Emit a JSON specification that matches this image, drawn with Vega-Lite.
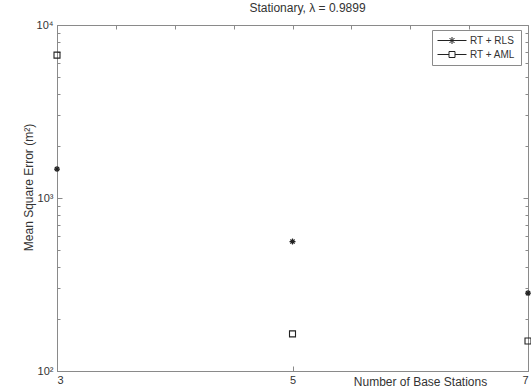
{
  "$schema": "https://vega.github.io/schema/vega-lite/v6.json",
  "autosize": {"type": "none"},
  "padding": {"left": 57, "top": 25, "right": 3, "bottom": 18},
  "width": 471,
  "height": 346,
  "background": "white",
  "config": {
    "view": {"stroke": "#8a8a8a", "strokeWidth": 1},
    "font": "Liberation Sans",
    "axis": {
      "grid": false,
      "domainColor": "#8a8a8a",
      "tickColor": "#8a8a8a",
      "labelColor": "#333333",
      "titleColor": "#333333",
      "labelFontSize": 11,
      "titleFontSize": 12,
      "titleFontWeight": "normal"
    }
  },
  "title": {"text": "Stationary, λ = 0.9899", "fontSize": 12, "fontWeight": "normal", "color": "#333333", "offset": 4, "dx": 15, "font": "Liberation Sans"},
  "data": {
    "values": [
      {"stations": 3, "method": "RT + RLS", "mse": 1470},
      {"stations": 3, "method": "RT + AML", "mse": 6700},
      {"stations": 5, "method": "RT + RLS", "mse": 560},
      {"stations": 5, "method": "RT + AML", "mse": 164},
      {"stations": 7, "method": "RT + RLS", "mse": 282},
      {"stations": 7, "method": "RT + AML", "mse": 149}
    ]
  },
  "layer": [
    {
      "transform": [{"filter": "datum.method === 'RT + RLS'"}],
      "mark": {"type": "point", "filled": false, "size": 36, "stroke": "#222222", "strokeWidth": 1.2, "clip": false, "opacity": 1,
               "shape": "M-1,0L1,0M0,-1L0,1M-0.7,-0.7L0.7,0.7M-0.7,0.7L0.7,-0.7"},
      "encoding": {
        "x": {
          "field": "stations", "type": "quantitative",
          "scale": {"domain": [3, 7], "nice": false, "zero": false},
          "axis": {
            "orient": "bottom", "values": [3, 5, 7], "format": "d", "labelFlush": true,
            "tickSize": -5, "labelPadding": 8,
            "title": "Number of Base Stations", "titleX": 363, "titleY": 10,
            "titleAlign": "center", "titleBaseline": "middle", "titleAnchor": null
          }
        },
        "y": {
          "field": "mse", "type": "quantitative",
          "scale": {"type": "log", "domain": [100, 10000], "nice": false},
          "axis": {
            "orient": "left",
            "values": [100, 200, 300, 400, 500, 600, 700, 800, 900, 1000, 2000, 3000, 4000, 5000, 6000, 7000, 8000, 9000, 10000],
            "labelExpr": "datum.value == 100 ? '10²' : datum.value == 1000 ? '10³' : datum.value == 10000 ? '10⁴' : ''",
            "tickSize": {"condition": {"test": "datum.value == 100 || datum.value == 1000 || datum.value == 10000", "value": -5}, "value": -3},
            "labelPadding": 9,
            "title": "Mean Square Error (m²)", "titleX": -29, "titleY": 162, "titleAngle": -90,
            "titleAlign": "center", "titleBaseline": "middle", "titleAnchor": null
          }
        }
      }
    },
    {
      "transform": [{"filter": "datum.method === 'RT + AML'"}],
      "mark": {"type": "point", "filled": false, "size": 36, "stroke": "#222222", "strokeWidth": 1.1, "clip": false, "opacity": 1,
               "shape": "M-1,-1L1,-1L1,1L-1,1Z"},
      "encoding": {
        "x": {
          "field": "stations", "type": "quantitative",
          "axis": {"orient": "top", "values": [3.5, 4, 4.5, 5, 5.5, 6, 6.5], "labelColor": "transparent", "labelFontSize": 1, "labelPadding": 0, "tickSize": -4, "title": "", "domainColor": "#8a8a8a"}
        },
        "y": {
          "field": "mse", "type": "quantitative",
          "axis": {
            "orient": "right",
            "values": [200, 300, 400, 500, 600, 700, 800, 900, 1000, 2000, 3000, 4000, 5000, 6000, 7000, 8000, 9000],
            "labelColor": "transparent", "labelFontSize": 1, "labelPadding": 0, "title": "", "domainColor": "#8a8a8a",
            "tickSize": {"condition": {"test": "datum.value == 1000", "value": -5}, "value": -3}
          }
        }
      }
    },
    {
      "transform": [{"filter": "false"}],
      "mark": {"type": "point", "filled": false, "stroke": "#222222", "opacity": 1},
      "encoding": {
        "shape": {
          "field": "method", "type": "nominal",
          "scale": {
            "domain": ["RT + RLS", "RT + AML"],
            "range": [
              "M-1,0L4.8,0M1.2,0L2.6,0M1.9,-0.7L1.9,0.7M1.4,-0.5L2.4,0.5M1.4,0.5L2.4,-0.5",
              "M-1,0L1.3,0M2.5,0L4.8,0M1.3,-0.6L2.5,-0.6L2.5,0.6L1.3,0.6Z"
            ]
          },
          "legend": {
            "orient": "none", "legendX": 375, "legendY": 5, "title": null,
            "symbolSize": 100, "labelFontSize": 10, "labelColor": "#333333",
            "strokeColor": "#8a8a8a", "fillColor": "white", "padding": 5,
            "rowPadding": 3, "labelOffset": 22, "symbolStrokeWidth": 1,
            "symbolStrokeColor": "#222222", "symbolFillColor": "transparent", "symbolOpacity": 1
          }
        }
      }
    }
  ],
  "resolve": {"axis": {"x": "independent", "y": "independent"}}
}
